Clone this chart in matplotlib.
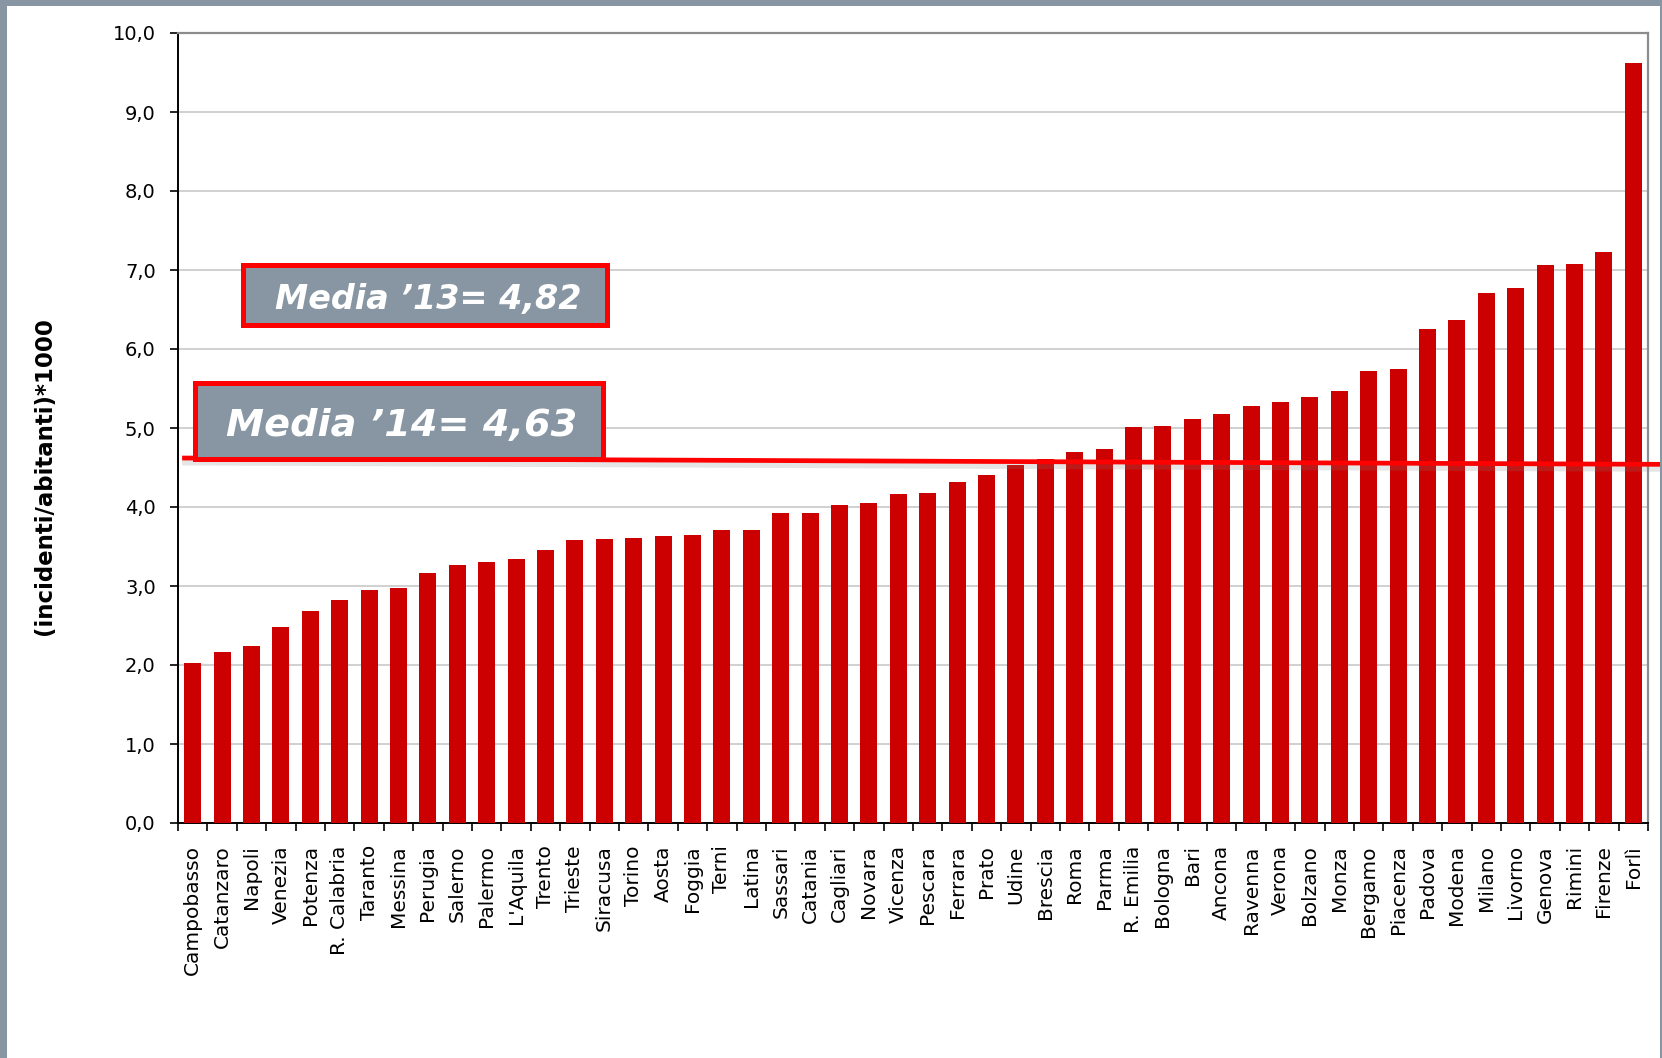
import numpy as np
import matplotlib

matplotlib.use("Agg")
import matplotlib.pyplot as plt
from matplotlib.patches import Rectangle
from matplotlib.ticker import FuncFormatter, FixedLocator

# data
cities = [
    "Campobasso", "Catanzaro", "Napoli", "Venezia", "Potenza", "R. Calabria",
    "Taranto", "Messina", "Perugia", "Salerno", "Palermo", "L'Aquila", "Trento",
    "Trieste", "Siracusa", "Torino", "Aosta", "Foggia", "Terni", "Latina",
    "Sassari", "Catania", "Cagliari", "Novara", "Vicenza", "Pescara", "Ferrara",
    "Prato", "Udine", "Brescia", "Roma", "Parma", "R. Emilia", "Bologna", "Bari",
    "Ancona", "Ravenna", "Verona", "Bolzano", "Monza", "Bergamo", "Piacenza",
    "Padova", "Modena", "Milano", "Livorno", "Genova", "Rimini", "Firenze", "Forlì",
]
values = [
    2.02, 2.17, 2.24, 2.48, 2.68, 2.82, 2.95, 2.98, 3.16, 3.26,
    3.30, 3.34, 3.46, 3.58, 3.59, 3.61, 3.63, 3.65, 3.71, 3.71,
    3.93, 3.93, 4.02, 4.05, 4.16, 4.18, 4.32, 4.41, 4.53, 4.61,
    4.70, 4.73, 5.01, 5.03, 5.11, 5.18, 5.28, 5.33, 5.39, 5.47,
    5.72, 5.75, 6.25, 6.37, 6.71, 6.77, 7.06, 7.08, 7.23, 9.62,
]
y_ticks = [0, 1, 2, 3, 4, 5, 6, 7, 8, 9, 10]
media_13 = "Media \u201913= 4,82"
media_14 = "Media \u201914= 4,63"
# hand-drawn mean line, slightly tilted (left / right level)
media_14_line = [4.62, 4.54]

W, H = 1662, 1058
BAR_RED = "#CC0000"
LINE_RED = "#FF0000"
FRAME = "#8796A2"


def fx(px):
    return px / W


def fy(py):
    return 1 - py / H


fig = plt.figure(figsize=(W / 100, H / 100), dpi=100)
fig.patch.set_facecolor("white")

# grey slide frame
fig.patches.append(Rectangle((0, fy(6)), 1, fy(0) - fy(6), transform=fig.transFigure,
                             facecolor=FRAME, edgecolor="none", zorder=0))
fig.patches.append(Rectangle((0, 0), fx(7), 1, transform=fig.transFigure,
                             facecolor=FRAME, edgecolor="none", zorder=0))
fig.patches.append(Rectangle((fx(1660), 0), fx(2), 1, transform=fig.transFigure,
                             facecolor=FRAME, edgecolor="none", zorder=0))

ax = fig.add_axes([fx(178), fy(823), fx(1648) - fx(178), fy(33) - fy(823)])

x = np.arange(len(cities))
ax.bar(x, values, width=0.58, color=BAR_RED, zorder=3)

ax.set_xlim(-0.5, len(cities) - 0.5)
ax.set_ylim(0, 10)

ax.set_yticks(y_ticks)
ax.yaxis.set_major_formatter(FuncFormatter(lambda v, p: f"{v:.1f}".replace(".", ",")))
ax.yaxis.grid(True, color="#C8C8C8", linewidth=1.2, zorder=0)
ax.set_axisbelow(True)

ax.set_xticks(x)
ax.set_xticklabels(cities, rotation=90, va="top", ha="center")
ax.xaxis.set_minor_locator(FixedLocator(np.arange(-0.5, len(cities), 1)))
ax.tick_params(axis="x", which="major", length=0, pad=16, labelsize=14.5)
ax.tick_params(axis="x", which="minor", length=6, width=1.2, direction="out", color="black")
ax.tick_params(axis="y", length=6, width=1.2, direction="out", pad=10, labelsize=14)

for side in ("left", "bottom"):
    ax.spines[side].set_color("black")
    ax.spines[side].set_linewidth(1.4)
for side in ("top", "right"):
    ax.spines[side].set_color("#8C8C8C")
    ax.spines[side].set_linewidth(1.6)

ax.set_ylabel("(incidenti/abitanti)*1000", fontsize=16.5, fontweight="bold")
ax.yaxis.set_label_coords(-0.083, 0.439)

# mean line with soft shadow
line_x = [-0.36, 49.99]
ax.plot(line_x, [v - 0.05 for v in media_14_line], color="#808080", alpha=0.2,
        linewidth=5, clip_on=False, zorder=5, solid_capstyle="butt")
ax.plot(line_x, media_14_line, color=LINE_RED, linewidth=3.4, clip_on=False,
        zorder=6, solid_capstyle="butt")


def label_box(x0, y0, x1, y1, text, baseline, size):
    lw_px = 5
    fig.patches.append(Rectangle((fx(x0 + lw_px / 2), fy(y1 - lw_px / 2)),
                                 fx(x1 - x0 - lw_px), fy(0) - fy(y1 - y0 - lw_px),
                                 transform=fig.transFigure, facecolor=FRAME,
                                 edgecolor=LINE_RED, linewidth=lw_px * 0.72, zorder=10))
    fig.text(fx((x0 + x1) / 2 + 3), fy(baseline), text, ha="center", va="baseline",
             color="white", fontsize=size, fontweight="bold", fontstyle="italic",
             zorder=11)


label_box(241, 262, 609, 327, media_13, 309, 24)
label_box(192, 380, 605, 461, media_14, 436, 27.5)

fig.savefig("out.png", dpi=100)
